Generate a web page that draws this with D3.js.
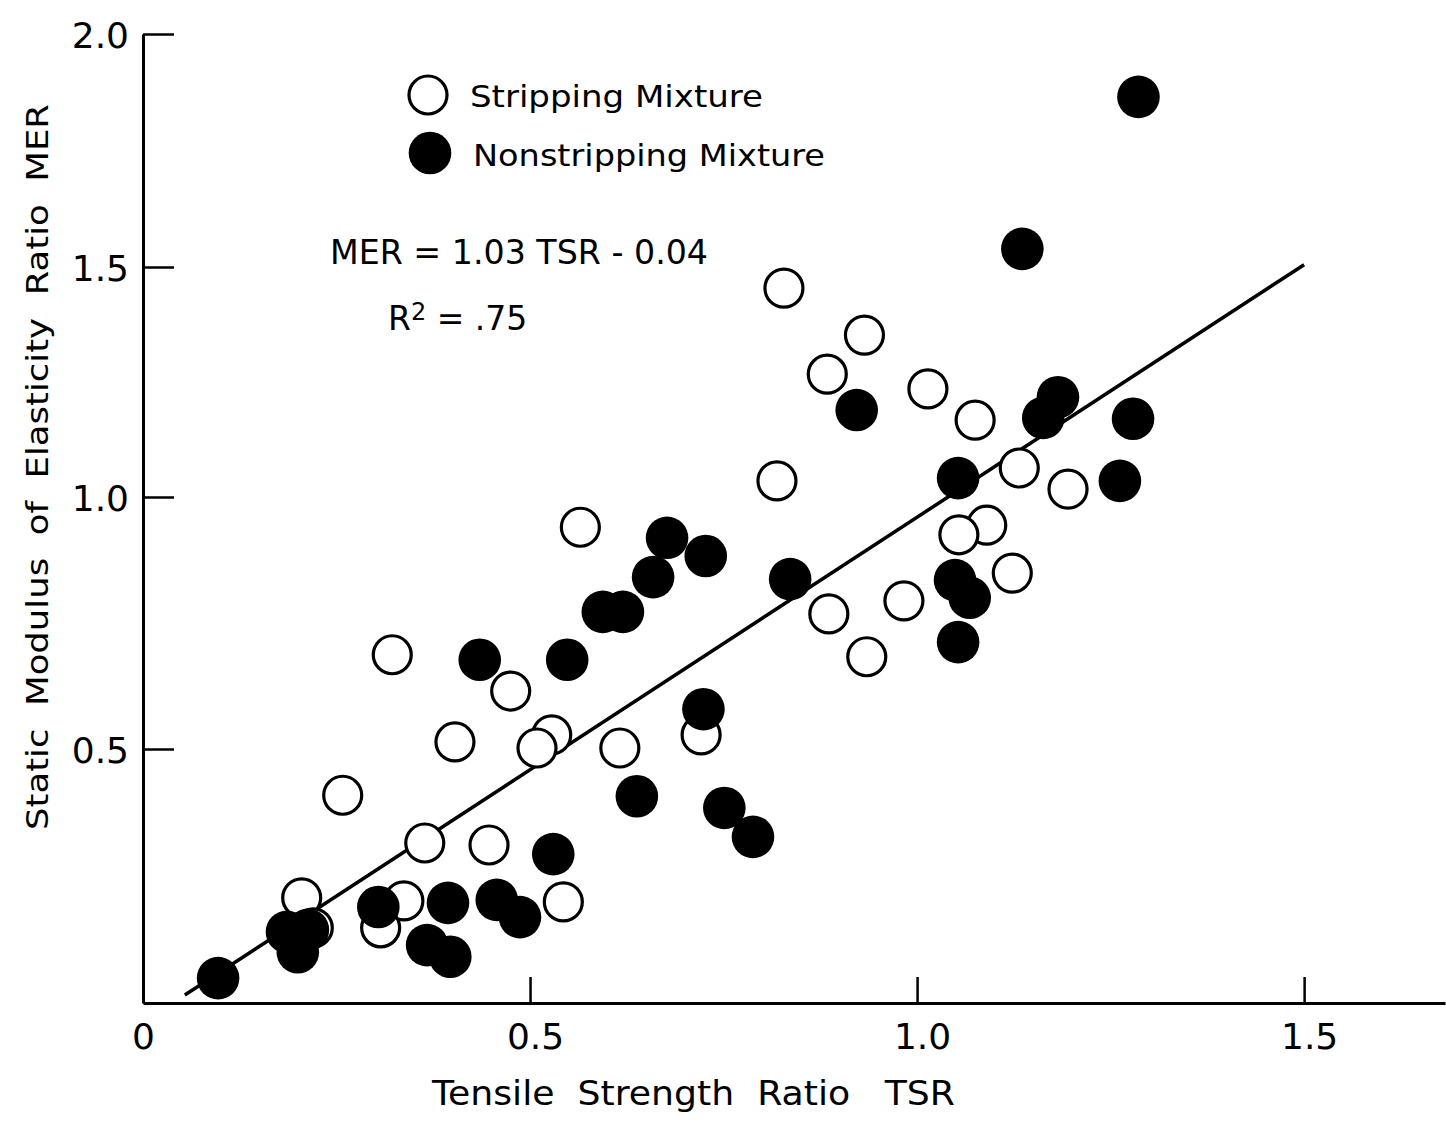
<!DOCTYPE html>
<html>
<head>
<meta charset="utf-8">
<script src="https://cdn.jsdelivr.net/npm/d3@7"></script>
<style>
  html, body { margin: 0; padding: 0; background: #fff; }
  svg { display: block; }
  text { font-family: "DejaVu Sans", "Liberation Sans", sans-serif; fill: #000; }
</style>
</head>
<body>
<svg id="chart" width="1446" height="1123"></svg>
<script>
// ---- data ----
const tsrTicks = [0, 0.5, 1.0, 1.5];
const tsrTickLabels = ["0", "0.5", "1.0", "1.5"];
const merTicks = [0.5, 1.0, 1.5, 2.0];
const merTickLabels = ["0.5", "1.0", "1.5", "2.0"];

// Stripping mixtures (open circles)
const strippingTSR = [0.828, 0.932, 0.884, 1.014, 1.075, 0.819, 1.132, 1.195, 0.565, 1.090,
                      1.054, 1.123, 0.983, 0.886, 0.935, 0.322, 0.475, 0.403, 0.528, 0.509,
                      0.616, 0.721, 0.258, 0.364, 0.447, 0.205, 0.220, 0.337, 0.307, 0.543];
const strippingMER = [1.454, 1.352, 1.267, 1.235, 1.167, 1.035, 1.063, 1.017, 0.940, 0.944,
                      0.925, 0.849, 0.794, 0.768, 0.683, 0.687, 0.615, 0.514, 0.528, 0.502,
                      0.502, 0.528, 0.409, 0.315, 0.311, 0.207, 0.148, 0.201, 0.148, 0.199];

// Nonstripping mixtures (filled circles)
const nonstrippingTSR = [1.286, 1.136, 0.922, 1.182, 1.163, 1.279, 1.053, 1.262, 0.677, 0.727,
                         0.659, 0.836, 1.049, 1.068, 0.594, 0.620, 1.053, 0.435, 0.548, 0.724,
                         0.638, 0.751, 0.788, 0.530, 0.304, 0.394, 0.457, 0.487, 0.367, 0.397,
                         0.186, 0.200, 0.213, 0.097];
const nonstrippingMER = [1.865, 1.539, 1.189, 1.217, 1.172, 1.170, 1.041, 1.035, 0.919, 0.883,
                         0.841, 0.837, 0.835, 0.800, 0.772, 0.772, 0.712, 0.677, 0.677, 0.579,
                         0.407, 0.384, 0.327, 0.293, 0.189, 0.197, 0.203, 0.169, 0.114, 0.091,
                         0.140, 0.100, 0.144, 0.049];

// Regression MER = 1.03 TSR - 0.04
const regSlope = 1.03;
const regIntercept = -0.04;
const regTSRRange = [0.054, 1.5];

const legendLabels = ["Stripping Mixture", "Nonstripping Mixture"];
const equationText = "MER = 1.03 TSR - 0.04";
const xTitle = "Tensile  Strength  Ratio   TSR";
const yTitle = "Static  Modulus  of  Elasticity  Ratio  MER";

// ---- drawing ----
const svg = d3.select("#chart");

const x = d3.scaleLinear().domain([0, 1.682]).range([143, 1445]);
// piecewise scale follows the tick spacing of the scanned original
const y = d3.scaleLinear().domain([0, 0.5, 1.0, 1.5, 2.0]).range([1003, 749, 497, 267, 34]);

const axisStroke = 3;

// Y axis
const yAxis = svg.append("g").attr("transform", `translate(${x(0)},0)`)
  .call(d3.axisLeft(y).tickValues(merTicks).tickSizeInner(-31).tickSizeOuter(0)
        .tickPadding(14).tickFormat((d, i) => merTickLabels[i]));
yAxis.select(".domain").attr("stroke", "#000").attr("stroke-width", axisStroke);
yAxis.selectAll(".tick line").attr("stroke", "#000").attr("stroke-width", 2.5);
yAxis.selectAll(".tick text").attr("font-size", 36).attr("fill", "#000")
  .attr("font-family", "DejaVu Sans").attr("dy", "0.38em");

// X axis
const xAxis = svg.append("g").attr("transform", `translate(0,${y(0)})`)
  .call(d3.axisBottom(x).tickValues(tsrTicks).tickSizeInner(-26).tickSizeOuter(0)
        .tickPadding(20).tickFormat((d, i) => tsrTickLabels[i]));
xAxis.select(".domain").attr("stroke", "#000").attr("stroke-width", axisStroke);
xAxis.selectAll(".tick line").attr("stroke", "#000").attr("stroke-width", 2.5);
xAxis.selectAll(".tick text").attr("font-size", 36).attr("fill", "#000")
  .attr("font-family", "DejaVu Sans").attr("dx", (d, i) => i === 0 ? 0 : 5);

// Regression line
const line = d3.line().x(d => x(d)).y(d => y(regSlope * d + regIntercept));
svg.append("path").datum(regTSRRange).attr("d", line)
  .attr("fill", "none").attr("stroke", "#000").attr("stroke-width", 3.5);

// Open circles (stripping)
svg.append("g").selectAll("circle")
  .data(d3.range(strippingTSR.length))
  .join("circle")
  .attr("cx", i => x(strippingTSR[i]))
  .attr("cy", i => y(strippingMER[i]))
  .attr("r", 19)
  .attr("fill", "#fff")
  .attr("stroke", "#000")
  .attr("stroke-width", 3.2);

// Filled circles (nonstripping)
svg.append("g").selectAll("circle")
  .data(d3.range(nonstrippingTSR.length))
  .join("circle")
  .attr("cx", i => x(nonstrippingTSR[i]))
  .attr("cy", i => y(nonstrippingMER[i]))
  .attr("r", 21.3)
  .attr("fill", "#000");

// Legend
const leg = svg.append("g");
leg.append("circle").attr("cx", 428).attr("cy", 95).attr("r", 19)
  .attr("fill", "#fff").attr("stroke", "#000").attr("stroke-width", 3.2);
leg.append("circle").attr("cx", 430).attr("cy", 153).attr("r", 21.3).attr("fill", "#000");
leg.append("text").attr("x", 470).attr("y", 107).attr("font-size", 31)
  .attr("textLength", 293).attr("lengthAdjust", "spacingAndGlyphs").text(legendLabels[0]);
leg.append("text").attr("x", 473).attr("y", 166).attr("font-size", 31)
  .attr("textLength", 352).attr("lengthAdjust", "spacingAndGlyphs").text(legendLabels[1]);

// Equation annotation
svg.append("text").attr("x", 330).attr("y", 264).attr("font-size", 33)
  .attr("textLength", 378).attr("lengthAdjust", "spacingAndGlyphs").text(equationText);
const r2 = svg.append("text").attr("x", 388).attr("y", 330).attr("font-size", 33);
r2.append("tspan").text("R");
r2.append("tspan").attr("font-size", 24).attr("dy", -10).text("2");
r2.append("tspan").attr("dy", 10).text(" = .75");

// Axis titles
svg.append("text").attr("x", 432).attr("y", 1105).attr("font-size", 34)
  .attr("textLength", 523).attr("lengthAdjust", "spacingAndGlyphs")
  .attr("xml:space", "preserve").style("white-space", "pre").text(xTitle);
svg.append("text").attr("transform", "translate(48,467) rotate(-90)")
  .attr("text-anchor", "middle").attr("font-size", 31)
  .attr("textLength", 726).attr("lengthAdjust", "spacingAndGlyphs")
  .style("white-space", "pre").text(yTitle);
</script>
</body>
</html>
